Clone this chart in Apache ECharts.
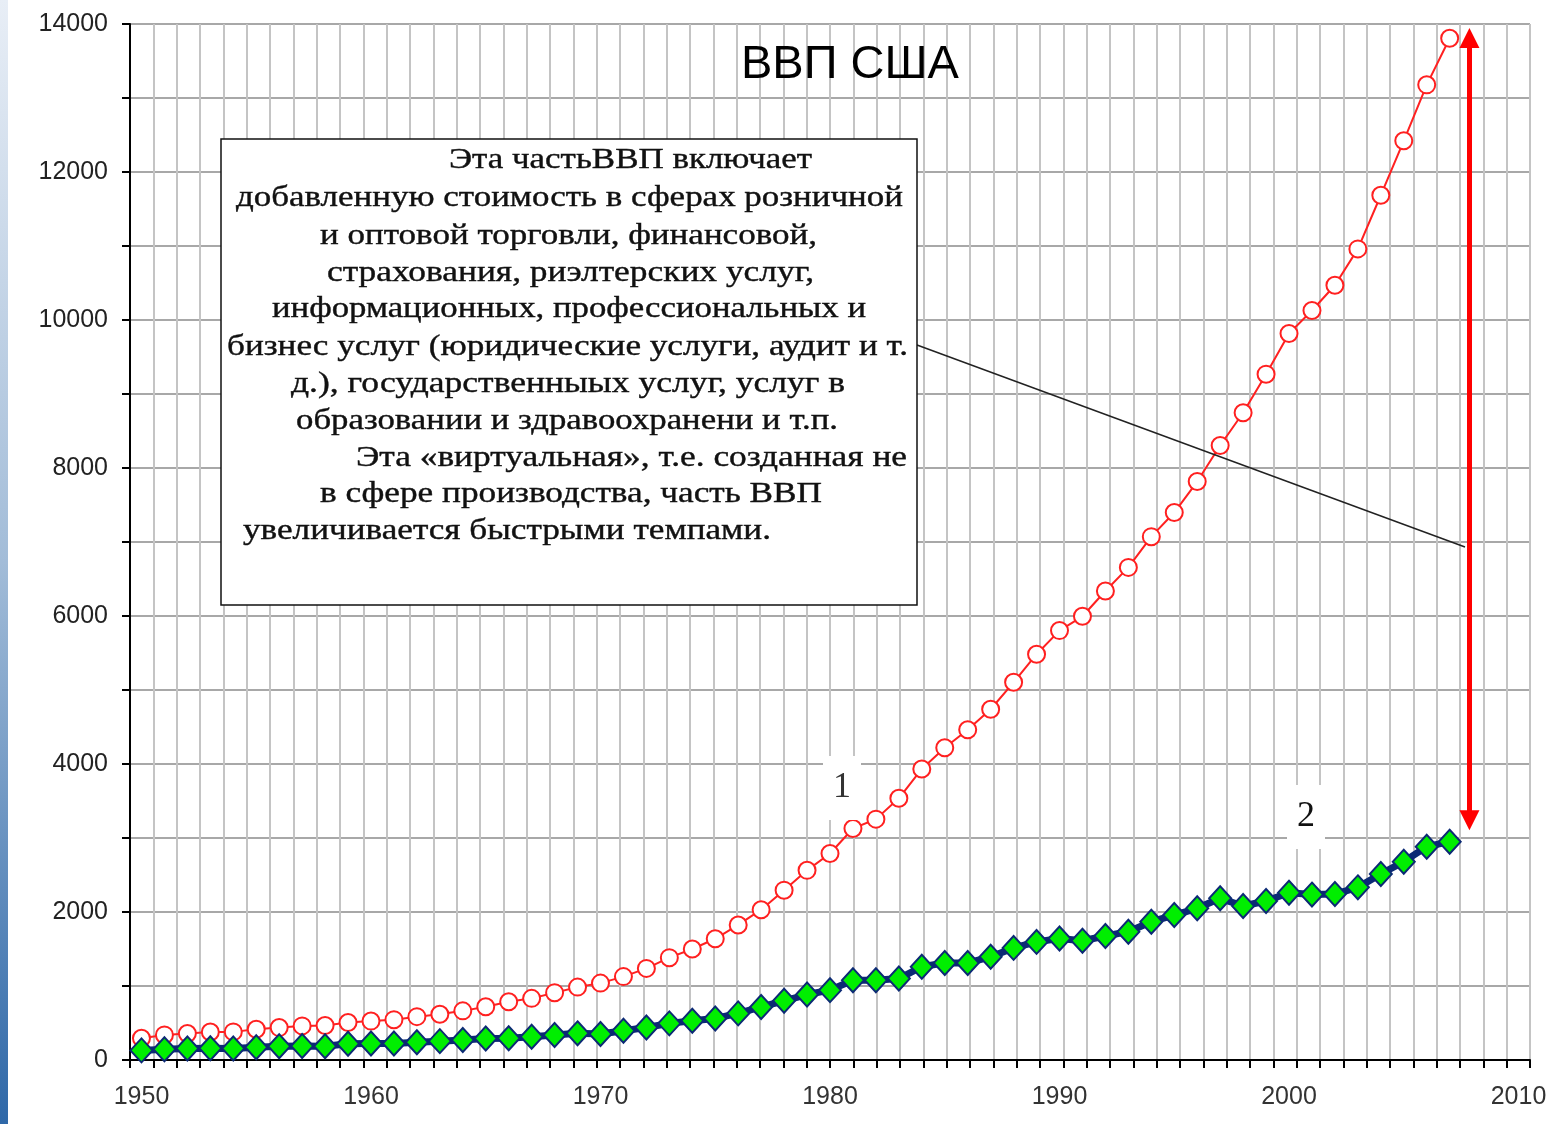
<!DOCTYPE html>
<html>
<head>
<meta charset="utf-8">
<script src="https://cdn.jsdelivr.net/npm/echarts/dist/echarts.min.js"></script>
<style>
html,body{margin:0;padding:0;background:#fff;}
#c{width:1568px;height:1124px;}
</style>
</head>
<body>
<div id="c"></div>
<script>
// ---------- data ----------
const years = [1950,1951,1952,1953,1954,1955,1956,1957,1958,1959,
               1960,1961,1962,1963,1964,1965,1966,1967,1968,1969,
               1970,1971,1972,1973,1974,1975,1976,1977,1978,1979,
               1980,1981,1982,1983,1984,1985,1986,1987,1988,1989,
               1990,1991,1992,1993,1994,1995,1996,1997,1998,1999,
               2000,2001,2002,2003,2004,2005,2006,2007];
// curve 1 (red, open circles)
const gdpTotal = [294,339,358,379,380,415,438,461,467,507,
                  526,545,586,618,664,719,788,833,910,985,
                  1039,1127,1238,1383,1500,1638,1825,2031,2295,2563,
                  2790,3128,3255,3537,3933,4220,4463,4740,5104,5484,
                  5803,5996,6338,6657,7072,7398,7817,8304,8747,9268,
                  9817,10128,10470,10961,11686,12422,13178,13808];
// curve 2 (green diamonds)
const gdpProduction = [130,145,155,160,155,172,185,190,185,220,
                       222,222,240,255,270,290,295,315,337,360,
                       352,395,440,495,530,562,630,717,800,885,
                       944,1078,1078,1100,1260,1312,1312,1395,1515,1596,
                       1641,1612,1675,1734,1869,1959,2050,2185,2081,2149,
                       2261,2235,2243,2333,2513,2680,2883,2950];
const xTickLabels = ['1950','1960','1970','1980','1990','2000','2010'];
const yTickLabels = ['0','2000','4000','6000','8000','10000','12000','14000'];
const titleText = 'ВВП США';
const seriesTags = ['1','2'];
const noteLines = [
  'Эта частьВВП включает',
  'добавленную стоимость в сферах розничной',
  'и оптовой торговли, финансовой,',
  'страхования, риэлтерских услуг,',
  'информационных, профессиональных и',
  'бизнес услуг (юридические услуги, аудит и т.',
  'д.), государственныых услуг, услуг в',
  'образовании и здравоохранени и т.п.',
  'Эта «виртуальная», т.е. созданная не',
  'в сфере производства, часть ВВП',
  'увеличивается быстрыми темпами.'
];
// arrow showing the gap at the end of the period (year, top value, bottom value)
const gapArrow = [2007.86, 13810, 3240];

// ---------- layout (pixels) ----------
const noteLayout = [ // [left, right, baseline]
  [449, 812, 170], [236, 903, 208], [320, 817, 246], [327, 814, 283],
  [272, 866, 319], [227, 908, 357], [291, 845, 394], [296, 838, 431],
  [356, 907, 468], [320, 822, 504], [243, 771, 541]
];
const NOTE_FONT = 30;
const noteFamily = '"Liberation Serif", "Times New Roman", serif';
const cv = document.createElement('canvas').getContext('2d');
cv.font = NOTE_FONT + 'px ' + noteFamily;

const graphics = [];
// left decorative bar
graphics.push({
  type: 'rect', left: 0, top: 0, z: 0,
  shape: {width: 8, height: 1124},
  style: {fill: new echarts.graphic.LinearGradient(0, 0, 0, 1, [
    {offset: 0, color: '#e8eef6'}, {offset: 0.5, color: '#a2bcd8'}, {offset: 1, color: '#2f68a8'}
  ])}
});
// leader line
graphics.push({
  type: 'line', z: 90,
  shape: {x1: 917, y1: 345, x2: 1465, y2: 547},
  style: {stroke: '#222', lineWidth: 1.5}
});
// note box
graphics.push({
  type: 'rect', z: 100,
  shape: {x: 221, y: 139, width: 696, height: 466},
  style: {fill: '#fff', stroke: '#111', lineWidth: 1.5}
});
noteLines.forEach((t, i) => {
  const [l, r, b] = noteLayout[i];
  const w = cv.measureText(t).width;
  graphics.push({
    type: 'text', z: 101,
    x: l, y: b - 10,
    scaleX: (r - l) / w, originX: 0, originY: 0,
    style: {text: t, fontSize: NOTE_FONT, fontFamily: noteFamily, fill: '#111',
            stroke: '#111', lineWidth: 0.4,
            align: 'left', verticalAlign: 'middle'}
  });
});
// curve tags
const tagPos = [[842, 788], [1306, 817]];
seriesTags.forEach((t, i) => {
  graphics.push({
    type: 'text', z: 95,
    x: tagPos[i][0], y: tagPos[i][1],
    style: {text: t, fontSize: 36, fontFamily: noteFamily, fill: i === 0 ? '#333' : '#111',
            align: 'center', verticalAlign: 'middle',
            backgroundColor: '#fff', padding: [14, 10, 14, 10]}
  });
});

const chart = echarts.init(document.getElementById('c'), null, {renderer: 'canvas'});
const option = {
  animation: false,
  backgroundColor: '#fff',
  title: {
    text: titleText, left: 736, top: 37,
    textStyle: {fontSize: 47, fontWeight: 'normal', color: '#000', fontFamily: '"Liberation Sans", Arial, sans-serif'}
  },
  grid: {left: 130, top: 24, width: 1400, height: 1036, containLabel: false},
  xAxis: [
    { // grid / ticks axis
      type: 'value', min: 1950, max: 2010, interval: 1, position: 'bottom',
      axisLine: {show: true, onZero: false, lineStyle: {color: '#000', width: 2}},
      axisTick: {show: true, length: 8, lineStyle: {color: '#000', width: 2}},
      axisLabel: {show: false},
      splitLine: {show: true, lineStyle: {color: '#c4c4c4', width: 2}}
    },
    { // data axis
      type: 'value', min: 1949.5, max: 2010.5, interval: 0.5, position: 'bottom',
      axisLine: {show: false}, axisTick: {show: false}, splitLine: {show: false},
      axisLabel: {
        show: true, margin: 25, fontSize: 25, color: '#333',
        fontFamily: '"Liberation Sans", Arial, sans-serif',
        showMinLabel: true, showMaxLabel: true,
        formatter: v => {
          const r = Math.round(v);
          return (Math.abs(v - r) < 1e-6 && xTickLabels.includes(String(r))) ? String(r) : '';
        }
      }
    }
  ],
  yAxis: {
    type: 'value', min: 0, max: 14000, interval: 1000,
    axisLine: {show: true, onZero: false, lineStyle: {color: '#000', width: 2}},
    axisTick: {show: true, length: 8, lineStyle: {color: '#000', width: 2}},
    axisLabel: {
      margin: 22, fontSize: 25, color: '#222',
      fontFamily: '"Liberation Sans", Arial, sans-serif',
      formatter: v => yTickLabels.includes(String(v)) ? String(v) : ''
    },
    splitLine: {show: true, lineStyle: {color: '#a8a8a8', width: 2}}
  },
  series: [
    {
      name: '1', type: 'line', xAxisIndex: 1,
      data: years.map((y, i) => [y, gdpTotal[i]]),
      symbol: 'circle', symbolSize: 17,
      lineStyle: {color: '#ff2020', width: 2},
      itemStyle: {color: '#fff', borderColor: '#ff2020', borderWidth: 2},
      z: 3,
      markLine: {
        silent: true, symbol: ['triangle', 'triangle'], symbolSize: [20, 20],
        label: {show: false},
        lineStyle: {color: '#ff0000', width: 5, type: 'solid'},
        data: [[{coord: [gapArrow[0], gapArrow[1]]}, {coord: [gapArrow[0], gapArrow[2]]}]]
      }
    },
    {
      name: '2', type: 'line', xAxisIndex: 1,
      data: years.map((y, i) => [y, gdpProduction[i]]),
      symbol: 'diamond', symbolSize: [22, 24],
      lineStyle: {color: '#0c2a74', width: 7},
      itemStyle: {color: '#00ee00', borderColor: '#0c2a74', borderWidth: 2},
      z: 4
    }
  ],
  graphic: graphics
};
chart.setOption(option);
</script>
</body>
</html>
